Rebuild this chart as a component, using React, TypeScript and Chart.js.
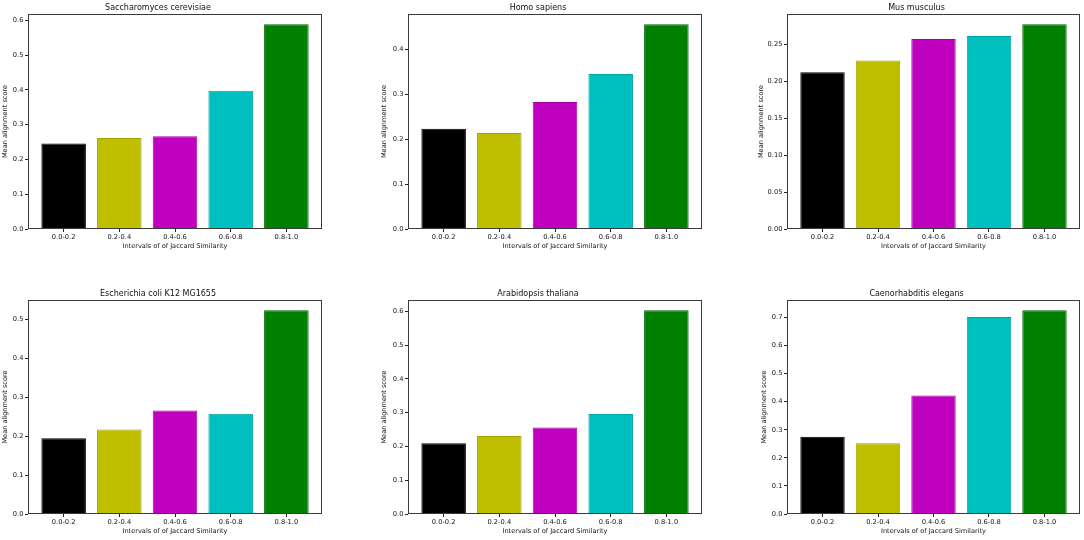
import { useEffect, useRef } from 'react'
import { Chart, registerables } from 'chart.js'

Chart.register(...registerables)

const intervals = ['0.0-0.2', '0.2-0.4', '0.4-0.6', '0.6-0.8', '0.8-1.0']
const barColors = ['#000000', '#bfbf00', '#bf00bf', '#00bfbf', '#008000']
const barEdges = ['#000000', '#a3a300', '#a300a3', '#00a3a3', '#006400']

const saccharomycesScores = [0.246, 0.262, 0.267, 0.398, 0.589]
const homoScores = [0.223, 0.214, 0.283, 0.345, 0.456]
const musScores = [0.212, 0.228, 0.257, 0.261, 0.277]
const ecoliScores = [0.195, 0.217, 0.266, 0.258, 0.524]
const arabidopsisScores = [0.209, 0.231, 0.256, 0.296, 0.603]
const elegansScores = [0.275, 0.252, 0.422, 0.702, 0.726]

const ticksTo06 = [0, 0.1, 0.2, 0.3, 0.4, 0.5, 0.6]
const ticksTo04 = [0, 0.1, 0.2, 0.3, 0.4]
const ticksTo025 = [0, 0.05, 0.1, 0.15, 0.2, 0.25]
const ticksTo05 = [0, 0.1, 0.2, 0.3, 0.4, 0.5]
const ticksTo07 = [0, 0.1, 0.2, 0.3, 0.4, 0.5, 0.6, 0.7]

const FONT = "'DejaVu Sans', sans-serif"

type Panel = {
  title: string
  scores: number[]
  ticks: number[]
  decimals: number
  // plot area in page pixels
  l: number
  t: number
  r: number
  b: number
  yTitleX: number
}

const panels: Panel[] = [
  { title: 'Saccharomyces cerevisiae', scores: saccharomycesScores, ticks: ticksTo06, decimals: 1, l: 28, t: 14, r: 322, b: 229, yTitleX: 5 },
  { title: 'Homo sapiens', scores: homoScores, ticks: ticksTo04, decimals: 1, l: 408, t: 14, r: 702, b: 229, yTitleX: 384 },
  { title: 'Mus musculus', scores: musScores, ticks: ticksTo025, decimals: 2, l: 787, t: 14, r: 1080, b: 229, yTitleX: 761 },
  { title: 'Escherichia coli K12 MG1655', scores: ecoliScores, ticks: ticksTo05, decimals: 1, l: 28, t: 300, r: 322, b: 514, yTitleX: 5 },
  { title: 'Arabidopsis thaliana', scores: arabidopsisScores, ticks: ticksTo06, decimals: 1, l: 408, t: 300, r: 702, b: 514, yTitleX: 384 },
  { title: 'Caenorhabditis elegans', scores: elegansScores, ticks: ticksTo07, decimals: 1, l: 787, t: 300, r: 1080, b: 514, yTitleX: 764 },
]

const Y_AXIS_W = 34
const TITLE_H = 16
const X_AXIS_H = 28
const PAD_RIGHT = 6

const framePlugin = {
  id: 'frame',
  afterDatasetsDraw(chart: any) {
    const { ctx, chartArea } = chart
    ctx.save()
    ctx.strokeStyle = '#3a3a3a'
    ctx.lineWidth = 1
    ctx.strokeRect(
      Math.round(chartArea.left) + 0.5,
      Math.round(chartArea.top) + 0.5,
      Math.round(chartArea.right - chartArea.left) - 1,
      Math.round(chartArea.bottom - chartArea.top) - 1
    )
    ctx.restore()
  },
}

function BarPanel({ panel }: { panel: Panel }) {
  const canvasRef = useRef<HTMLCanvasElement>(null)
  const chartRef = useRef<any>(null)

  const cx = panel.l - Y_AXIS_W
  const ct = panel.t - TITLE_H
  const cw = panel.r - cx + PAD_RIGHT
  const ch = panel.b - ct + X_AXIS_H

  useEffect(() => {
    if (chartRef.current) chartRef.current.destroy()
    const ctx = canvasRef.current!.getContext('2d')!
    const yMax = Math.max(...panel.scores) * 1.05

    chartRef.current = new Chart(ctx, {
      type: 'bar',
      data: {
        datasets: [
          {
            data: panel.scores.map((v, i) => ({ x: i, y: v })),
            backgroundColor: barColors,
            borderColor: barEdges,
            borderWidth: 1,
            categoryPercentage: 0.8,
            barPercentage: 1,
          },
        ],
      },
      options: {
        animation: false,
        responsive: true,
        maintainAspectRatio: false,
        layout: { padding: { left: 0, right: PAD_RIGHT, top: 0, bottom: 0 } },
        plugins: {
          legend: { display: false },
          tooltip: { enabled: false },
          title: {
            display: true,
            text: panel.title,
            color: '#111',
            font: { family: FONT, size: 8, weight: 'normal' },
            padding: { top: 4.7, bottom: 1.7 },
          },
        },
        scales: {
          x: {
            type: 'linear',
            min: -0.64,
            max: 4.64,
            offset: false,
            border: { display: false },
            grid: {
              display: true,
              offset: false,
              drawOnChartArea: false,
              drawTicks: true,
              tickLength: 3,
              tickColor: '#222',
            },
            afterBuildTicks: (scale: any) => {
              scale.ticks = intervals.map((_, i) => ({ value: i }))
            },
            afterFit: (scale: any) => {
              scale.height = X_AXIS_H
            },
            ticks: {
              color: '#111',
              padding: 1,
              maxRotation: 0,
              autoSkip: false,
              font: { family: FONT, size: 6.7 },
              callback: (v: any) => intervals[v] ?? '',
            },
            title: {
              display: true,
              text: 'Intervals of of Jaccard Similarity',
              color: '#111',
              font: { family: FONT, size: 6.6 },
              padding: { top: 0, bottom: 7 },
            },
          },
          y: {
            type: 'linear',
            min: 0,
            max: yMax,
            border: { display: false },
            grid: {
              display: true,
              drawOnChartArea: false,
              drawTicks: true,
              tickLength: 3,
              tickColor: '#222',
            },
            afterBuildTicks: (scale: any) => {
              scale.ticks = panel.ticks.map((v) => ({ value: v }))
            },
            afterFit: (scale: any) => {
              scale.width = Y_AXIS_W
            },
            ticks: {
              color: '#111',
              padding: 1.5,
              font: { family: FONT, size: 6.7 },
              callback: (v: any) => Number(v).toFixed(panel.decimals),
            },
            title: {
              display: true,
              text: 'Mean alignment score',
              color: '#111',
              font: { family: FONT, size: 6.6 },
              padding: { top: panel.yTitleX - cx - 4, bottom: 0 },
            },
          },
        },
      } as any,
      plugins: [framePlugin],
    })

    return () => {
      if (chartRef.current) {
        chartRef.current.destroy()
        chartRef.current = null
      }
    }
  }, [])

  return (
    <div style={{ position: 'absolute', left: cx, top: ct, width: cw, height: ch }}>
      <canvas ref={canvasRef} />
    </div>
  )
}

export default function App() {
  return (
    <div
      style={{
        position: 'fixed',
        left: 0,
        top: 0,
        width: 1084,
        height: 540,
        background: '#fff',
        overflow: 'hidden',
      }}
    >
      {panels.map((p) => (
        <BarPanel key={p.title} panel={p} />
      ))}
    </div>
  )
}
